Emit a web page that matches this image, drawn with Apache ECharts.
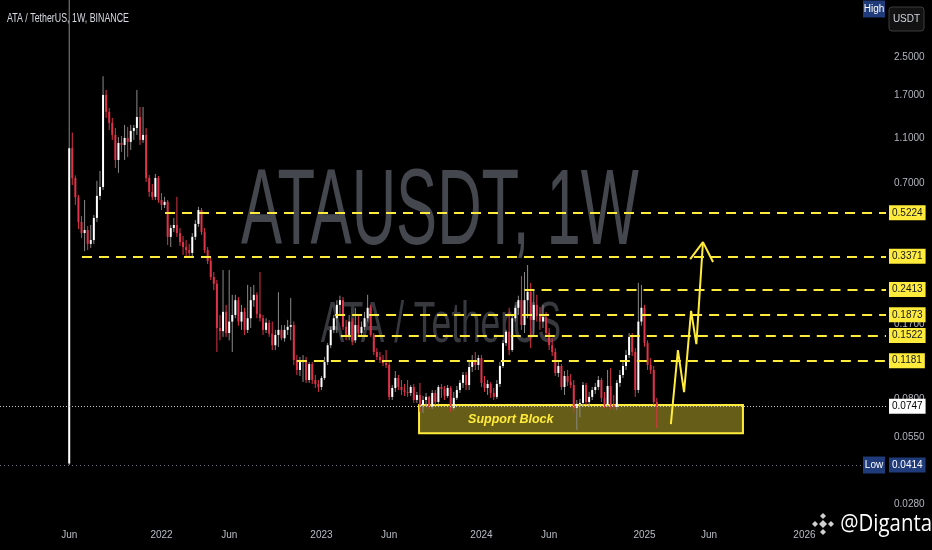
<!DOCTYPE html>
<html>
<head>
<meta charset="utf-8">
<script src="https://cdn.jsdelivr.net/npm/echarts/dist/echarts.min.js"></script>
<style>
html,body{margin:0;padding:0;background:#000;}
#chart{width:932px;height:550px;}
</style>
</head>
<body>
<div id="chart"></div>
<script>
// ---------- data ----------
const weekStart = '2021-01-04';     // first weekly slot of the time axis
const weekCount = 288;              // number of weekly slots on the axis
const candleStart = '2021-06-07';   // first weekly candle (ATA/USDT 1W)

const opens = [0.042,1.00,0.74,0.61,0.476,0.426,0.439,0.382,0.397,0.496,0.619,0.677,1.707,1.44,1.289,1.142,0.888,1.054,1.033,1.108,1.065,1.189,1.225,1.368,1.086,1.142,0.741,0.644,0.613,0.741,0.594,0.565,0.583,0.410,0.448,0.462,0.426,0.389,0.370,0.359,0.349,0.410,0.467,0.537,0.430,0.359,0.322,0.274,0.256,0.164,0.159,0.193,0.156,0.175,0.187,0.217,0.175,0.193,0.161,0.181,0.217,0.229,0.189,0.181,0.161,0.173,0.155,0.138,0.153,0.161,0.148,0.161,0.166,0.169,0.119,0.1076,0.1165,0.1189,0.0973,0.1142,0.0973,0.0935,0.0907,0.0993,0.1165,0.138,0.161,0.181,0.207,0.217,0.166,0.150,0.175,0.145,0.169,0.156,0.166,0.181,0.201,0.153,0.129,0.1225,0.1189,0.1154,0.1131,0.0821,0.0898,0.0993,0.0907,0.0880,0.0863,0.0854,0.0907,0.0796,0.0837,0.0757,0.0796,0.0821,0.0742,0.0854,0.0780,0.0907,0.0889,0.0829,0.0898,0.0735,0.0813,0.0880,0.0945,0.1023,0.0925,0.1109,0.1189,0.1131,0.1213,0.0945,0.0898,0.0935,0.0854,0.0821,0.0935,0.1120,0.141,0.158,0.1315,0.181,0.201,0.217,0.169,0.217,0.236,0.178,0.207,0.185,0.175,0.183,0.156,0.138,0.129,0.1044,0.1120,0.0907,0.1013,0.0954,0.0925,0.0735,0.0765,0.0773,0.0925,0.0780,0.0821,0.0880,0.0907,0.0973,0.0813,0.0757,0.0916,0.0757,0.0742,0.0945,0.1023,0.1120,0.125,0.150,0.129,0.0880,0.175,0.201,0.141,0.1131,0.1076,0.0780];
const closes = [1.00,0.74,0.61,0.476,0.426,0.439,0.382,0.397,0.496,0.619,0.677,1.707,1.44,1.289,1.142,0.888,1.054,1.033,1.108,1.065,1.189,1.225,1.368,1.086,1.142,0.741,0.644,0.613,0.741,0.594,0.565,0.583,0.410,0.448,0.462,0.426,0.389,0.370,0.359,0.349,0.410,0.467,0.537,0.430,0.359,0.322,0.274,0.256,0.164,0.159,0.193,0.156,0.175,0.187,0.217,0.175,0.193,0.161,0.181,0.217,0.229,0.189,0.181,0.161,0.173,0.155,0.138,0.153,0.161,0.148,0.161,0.166,0.169,0.119,0.1076,0.1165,0.1189,0.0973,0.1142,0.0973,0.0935,0.0907,0.0993,0.1165,0.138,0.161,0.181,0.207,0.217,0.166,0.150,0.175,0.145,0.169,0.156,0.166,0.181,0.201,0.153,0.129,0.1225,0.1189,0.1154,0.1131,0.0821,0.0898,0.0993,0.0907,0.0880,0.0863,0.0854,0.0907,0.0796,0.0837,0.0757,0.0796,0.0821,0.0742,0.0854,0.0780,0.0907,0.0889,0.0829,0.0898,0.0735,0.0813,0.0880,0.0945,0.1023,0.0925,0.1109,0.1189,0.1131,0.1213,0.0945,0.0898,0.0935,0.0854,0.0821,0.0935,0.1120,0.141,0.158,0.1315,0.181,0.201,0.217,0.169,0.217,0.236,0.178,0.207,0.185,0.175,0.183,0.156,0.138,0.129,0.1044,0.1120,0.0907,0.1013,0.0954,0.0925,0.0735,0.0765,0.0773,0.0925,0.0780,0.0821,0.0880,0.0907,0.0973,0.0813,0.0757,0.0916,0.0757,0.0742,0.0945,0.1023,0.1120,0.125,0.150,0.129,0.0880,0.175,0.201,0.141,0.1131,0.1076,0.0780,0.0747];
const lows = [0.0414,0.69,0.565,0.444,0.405,0.355,0.359,0.367,0.382,0.476,0.594,0.657,1.355,1.201,1.086,0.82,0.78,0.963,0.888,0.915,0.982,1.086,1.142,1.033,1.054,0.712,0.613,0.594,0.594,0.577,0.537,0.548,0.378,0.370,0.430,0.410,0.374,0.342,0.338,0.335,0.338,0.397,0.453,0.418,0.349,0.312,0.266,0.240,0.129,0.145,0.150,0.150,0.145,0.129,0.181,0.168,0.161,0.153,0.156,0.164,0.203,0.181,0.175,0.153,0.156,0.150,0.1315,0.1315,0.1355,0.145,0.143,0.153,0.145,0.113,0.1023,0.1013,0.0954,0.0945,0.0945,0.0935,0.0898,0.0863,0.0880,0.0973,0.1131,0.134,0.156,0.156,0.187,0.161,0.145,0.145,0.138,0.141,0.150,0.150,0.161,0.175,0.150,0.125,0.1189,0.1154,0.112,0.1098,0.0796,0.0796,0.0863,0.0880,0.0837,0.0829,0.0821,0.0829,0.0773,0.0773,0.0706,0.0699,0.0742,0.0727,0.0727,0.0757,0.0765,0.0813,0.0796,0.0813,0.0706,0.0720,0.0796,0.0854,0.0898,0.0880,0.0880,0.1054,0.1076,0.1076,0.0907,0.0863,0.0837,0.0813,0.0796,0.0804,0.0907,0.1098,0.137,0.125,0.129,0.175,0.187,0.161,0.156,0.181,0.134,0.153,0.175,0.161,0.164,0.150,0.1315,0.1238,0.1013,0.1003,0.0880,0.0837,0.0916,0.0898,0.0699,0.0589,0.0670,0.0742,0.0757,0.0742,0.0796,0.0846,0.0880,0.0780,0.0735,0.0742,0.0727,0.0720,0.0720,0.0907,0.0993,0.1076,0.1213,0.1238,0.0821,0.0854,0.168,0.136,0.1076,0.1033,0.0757,0.0601];
const highs = [4.8,1.17,0.76,0.625,0.506,0.594,0.457,0.462,0.511,0.72,0.795,2.06,1.795,1.498,1.355,1.225,1.119,1.13,1.263,1.238,1.263,1.263,1.795,1.513,1.513,1.225,0.764,0.698,0.772,0.756,0.637,0.613,0.594,0.462,0.496,0.613,0.448,0.414,0.397,0.382,0.426,0.486,0.555,0.548,0.448,0.370,0.332,0.288,0.266,0.187,0.294,0.207,0.294,0.229,0.229,0.224,0.207,0.201,0.253,0.248,0.253,0.235,0.288,0.187,0.181,0.178,0.175,0.161,0.235,0.169,0.169,0.178,0.222,0.175,0.125,0.1227,0.125,0.1227,0.1165,0.1165,0.1023,0.0973,0.1013,0.1227,0.141,0.166,0.187,0.217,0.227,0.224,0.178,0.187,0.181,0.201,0.187,0.175,0.193,0.229,0.207,0.156,0.134,0.129,0.125,0.1315,0.1165,0.0925,0.1065,0.1023,0.0973,0.0935,0.0973,0.0925,0.0935,0.0863,0.0945,0.0829,0.0854,0.0829,0.0880,0.0880,0.0925,0.0935,0.0916,0.0925,0.0916,0.0863,0.0916,0.0973,0.1054,0.1054,0.1165,0.125,0.129,0.125,0.125,0.1013,0.0973,0.0954,0.0898,0.0973,0.1165,0.145,0.161,0.201,0.187,0.207,0.227,0.277,0.288,0.309,0.258,0.240,0.229,0.203,0.207,0.193,0.164,0.148,0.134,0.1189,0.1142,0.1065,0.1076,0.1033,0.0973,0.0796,0.0804,0.0954,0.0945,0.0863,0.0907,0.0945,0.1013,0.0993,0.0863,0.1076,0.1098,0.0837,0.0973,0.1076,0.1165,0.1315,0.156,0.156,0.134,0.258,0.253,0.207,0.145,0.1213,0.1120,0.0813];

const tickDates = ['2021-06-07','2022-01-03','2022-06-06','2023-01-02','2023-06-05','2024-01-01','2024-06-03','2025-01-06','2025-06-02','2026-01-05'];
const tickTexts = ['Jun','2022','Jun','2023','Jun','2024','Jun','2025','Jun','2026'];
const priceTicks = [2.5, 1.7, 1.1, 0.7, 0.17, 0.08, 0.055, 0.04, 0.028];

const levelPrices = [0.5224, 0.3371, 0.2413, 0.1873, 0.1522, 0.1181];
const levelStarts = ['2022-01-11','2021-07-06','2024-04-08','2023-02-02','2023-02-15','2022-11-07'];

const lastPrice = 0.0747;
const lowPrice = 0.0414;
const highLabelPrice = 4.05;
const yMin = 0.02431, yMax = 4.432;

const blockStart = '2023-08-12', blockEnd = '2025-08-18';
const blockTop = 0.0757, blockBottom = 0.0570;

const arrowDates = ['2025-03-07','2025-03-23','2025-04-06','2025-04-22','2025-05-04','2025-05-19'];
const arrowPrices = [0.0625, 0.1315, 0.0862, 0.195, 0.1394, 0.389];
const headDates = ['2025-04-20','2025-05-19','2025-06-11'];
const headPrices = [0.328, 0.389, 0.3185];

// ---------- helpers ----------
const DAY = 86400000;
const t0 = Date.parse(weekStart);
const weekIndex = d => (Date.parse(d) - t0) / (7 * DAY);
const categories = [];
for (let k = 0; k < weekCount; k++) categories.push(new Date(t0 + k * 7 * DAY).toISOString().slice(0, 10));
const offset = weekIndex(candleStart);
const xStart = -0.5, xEnd = weekCount - 0.5;

const candleData = closes.map((c, i) => [offset + i, opens[i], c, lows[i], highs[i]]);
const fullLine = p => [{ coord: [xStart, p], name: p.toFixed(4) }, { coord: [xEnd, p] }];

const FONT = '"Liberation Sans",Arial,sans-serif';
const UP = '#ffffff', UP_WICK = '#8a8a8a', DOWN = '#de3348';
const YELLOW = '#ffeb3b', BLUE = '#1f3b7a';

function renderCandle(params, api) {
  const x = api.value(0), o = api.value(1), c = api.value(2), l = api.value(3), h = api.value(4);
  const pO = api.coord([x, o]), pC = api.coord([x, c]);
  const pL = api.coord([x, l]), pH = api.coord([x, h]);
  const up = c >= o;
  const bw = 2;
  const top = Math.min(pO[1], pC[1]), bot = Math.max(pO[1], pC[1]);
  return {
    type: 'group',
    children: [
      { type: 'line', shape: { x1: pH[0], y1: pH[1], x2: pL[0], y2: pL[1] },
        style: { stroke: up ? UP_WICK : DOWN, lineWidth: 1 } },
      { type: 'rect', shape: { x: pO[0] - bw / 2, y: top, width: bw, height: Math.max(1, bot - top) },
        style: { fill: up ? UP : DOWN } }
    ]
  };
}

const chart = echarts.init(document.getElementById('chart'), null, { renderer: 'canvas' });

const boxLabel = (fg, bg) => ({
  show: true, position: 'end', distance: 3, color: fg, backgroundColor: bg,
  padding: [3, 3, 2, 3], fontSize: 10, fontFamily: FONT, formatter: p => p.name
});

const option = {
  backgroundColor: '#000000',
  animation: false,
  grid: { left: 0, top: 0, width: 886, height: 518, outerBoundsMode: 'none', containLabel: false },
  xAxis: [
    {
      type: 'category', data: categories, boundaryGap: true,
      axisLine: { show: false }, axisTick: { show: false }, splitLine: { show: false },
      axisLabel: {
        interval: (i, v) => tickDates.indexOf(v) >= 0,
        formatter: v => tickTexts[tickDates.indexOf(v)] || '',
        color: '#b8bcc4', fontSize: 10, fontFamily: FONT, margin: 12
      }
    },
    { type: 'value', min: xStart, max: xEnd, show: false }
  ],
  yAxis: {
    type: 'log', logBase: 10, min: yMin, max: yMax, position: 'right', show: false,
    splitLine: { show: false }
  },
  graphic: [
    { type: 'text', x: 7, y: 18, scaleX: 0.68, z: 10,
      style: { text: 'ATA / TetherUS, 1W, BINANCE', fill: '#d8dbe2', fontSize: 13, fontFamily: FONT,
               textAlign: 'left', textVerticalAlign: 'middle' } },
    { type: 'text', x: 440, y: 214, scaleX: 0.57, z: 0,
      style: { text: 'ATAUSDT, 1W', fill: '#45474e', fontSize: 108, fontFamily: FONT,
               textAlign: 'center', textVerticalAlign: 'middle' } },
    { type: 'text', x: 441, y: 326, scaleX: 0.62, z: 0,
      style: { text: 'ATA / TetherUS', fill: '#37393f', fontSize: 57, fontFamily: FONT,
               textAlign: 'center', textVerticalAlign: 'middle' } },
    { type: 'group', z: 100, children: [
      { type: 'rect', shape: { x: 889, y: 7, width: 35, height: 24, r: 3 },
        style: { fill: '#121212', stroke: '#3c3c3c', lineWidth: 1 } },
      { type: 'text', x: 906.5, y: 19, style: { text: 'USDT', fill: '#d1d4dc', fontSize: 10, fontFamily: FONT,
        textAlign: 'center', textVerticalAlign: 'middle' } }
    ]},
    { type: 'group', z: 100, children: [
      { type: 'polygon', shape: { points: [[823, 520], [827, 524], [823, 528], [819, 524]] }, style: { fill: '#d0d0d0' } },
      { type: 'polygon', shape: { points: [[823, 513], [826, 516], [823, 519], [820, 516]] }, style: { fill: '#d0d0d0' } },
      { type: 'polygon', shape: { points: [[823, 529], [826, 532], [823, 535], [820, 532]] }, style: { fill: '#d0d0d0' } },
      { type: 'polygon', shape: { points: [[815, 521], [818, 524], [815, 527], [812, 524]] }, style: { fill: '#d0d0d0' } },
      { type: 'polygon', shape: { points: [[831, 521], [834, 524], [831, 527], [828, 524]] }, style: { fill: '#d0d0d0' } },
      { type: 'text', x: 932, y: 524, scaleX: 0.85,
        style: { text: '@Diganta', fill: '#ffffff', fontSize: 24, fontFamily: '"Open Sans","Noto Sans",sans-serif',
                 textAlign: 'right', textVerticalAlign: 'middle' } }
    ]}
  ],
  series: [
    {
      name: 'ATAUSDT', type: 'custom', xAxisIndex: 0, yAxisIndex: 0, z: 2, clip: true,
      renderItem: renderCandle, encode: { x: 0, y: [1, 2, 3, 4] }, data: candleData
    },
    {
      name: 'priceScale', type: 'line', xAxisIndex: 1, yAxisIndex: 0, data: [], z: 3,
      markLine: {
        silent: true, symbol: 'none', animation: false,
        lineStyle: { color: 'rgba(0,0,0,0)', width: 0 },
        label: { show: true, position: 'end', distance: 8, color: '#b2b5be', fontSize: 10, fontFamily: FONT,
                 formatter: p => p.name },
        data: priceTicks.map(fullLine)
      }
    },
    {
      name: 'lowLine', type: 'line', xAxisIndex: 1, yAxisIndex: 0, data: [], z: 4,
      markLine: {
        silent: true, symbol: 'none', animation: false,
        lineStyle: { color: '#6f727a', width: 1, type: [1, 3] },
        label: boxLabel('#ffffff', BLUE),
        data: [fullLine(lowPrice)]
      },
      markPoint: {
        silent: true, animation: false,
        symbol: 'rect', symbolSize: [22, 17], symbolOffset: [-12, 0],
        itemStyle: { color: BLUE },
        label: { show: true, position: 'inside', color: '#ffffff', fontSize: 10, fontFamily: FONT },
        data: [
          { coord: [xEnd, lowPrice], label: { formatter: 'Low' } },
          { coord: [xEnd, highLabelPrice], label: { formatter: 'High' } }
        ]
      }
    },
    {
      name: 'lastLine', type: 'line', xAxisIndex: 1, yAxisIndex: 0, data: [], z: 4,
      markLine: {
        silent: true, symbol: 'none', animation: false,
        lineStyle: { color: '#c8c8c8', width: 1, type: [1, 2] },
        label: boxLabel('#000000', '#ffffff'),
        data: [fullLine(lastPrice)]
      }
    },
    {
      name: 'levels', type: 'line', xAxisIndex: 1, yAxisIndex: 0, data: [], z: 6,
      markLine: {
        silent: true, symbol: 'none', animation: false,
        lineStyle: { color: YELLOW, width: 2, type: [10, 7] },
        label: boxLabel('#131722', YELLOW),
        data: levelPrices.map((p, i) => [
          { coord: [weekIndex(levelStarts[i]), p], name: p.toFixed(4) },
          { coord: [xEnd, p] }
        ])
      }
    },
    {
      name: 'supportBlock', type: 'line', xAxisIndex: 1, yAxisIndex: 0, data: [], z: 5,
      markArea: {
        silent: true, animation: false,
        itemStyle: { color: 'rgba(255,235,59,0.40)', borderColor: YELLOW, borderWidth: 2 },
        label: { show: true, position: 'insideLeft', distance: 50, color: YELLOW, fontSize: 12.5,
                 fontStyle: 'italic', fontWeight: 'bold', fontFamily: FONT },
        data: [[
          { name: 'Support Block', coord: [weekIndex(blockStart), blockTop] },
          { coord: [weekIndex(blockEnd), blockBottom] }
        ]]
      }
    },
    {
      name: 'path', type: 'line', xAxisIndex: 1, yAxisIndex: 0, z: 7,
      symbol: 'none', lineStyle: { color: YELLOW, width: 2 },
      data: arrowDates.map((d, i) => [weekIndex(d), arrowPrices[i]])
    },
    {
      name: 'head', type: 'line', xAxisIndex: 1, yAxisIndex: 0, z: 7,
      symbol: 'none', lineStyle: { color: YELLOW, width: 2 },
      data: headDates.map((d, i) => [weekIndex(d), headPrices[i]])
    }
  ]
};
chart.setOption(option);
</script>
</body>
</html>
